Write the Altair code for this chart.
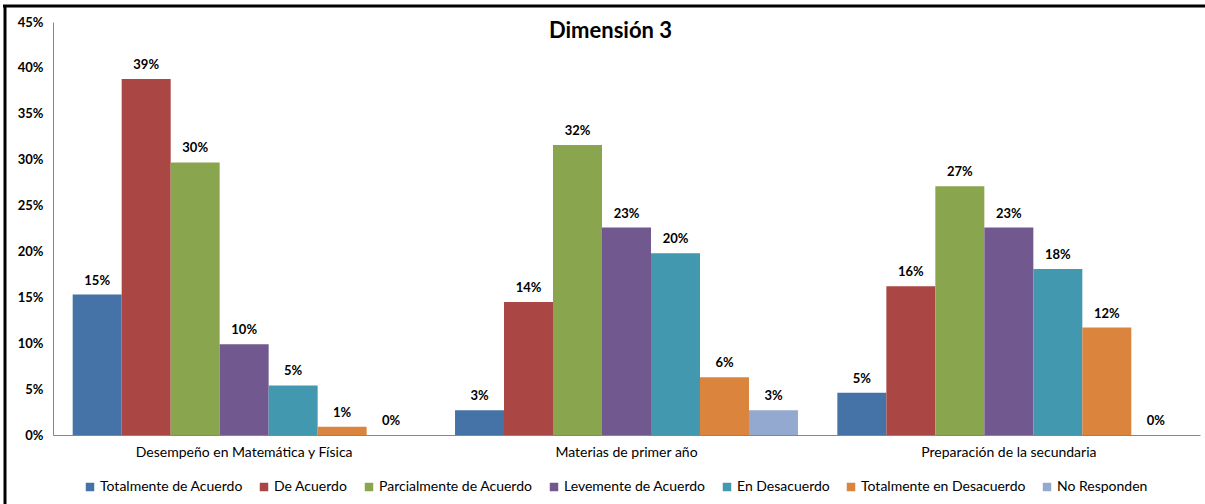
import altair as alt
import pandas as pd

categories = ["Desempeño en Matemática y Física", "Materias de primer año", "Preparación de la secundaria"]
series = ["Totalmente de Acuerdo", "De Acuerdo", "Parcialmente de Acuerdo", "Levemente de Acuerdo",
          "En Desacuerdo", "Totalmente en Desacuerdo", "No Responden"]
colors = ["#4572A7", "#AA4643", "#89A54E", "#71588F", "#4198AF", "#DB843D", "#93A9CF"]

vals_desempeno = [15.3, 38.8, 29.7, 9.9, 5.4, 0.9, 0.0]
vals_materias = [2.7, 14.5, 31.6, 22.6, 19.8, 6.3, 2.7]
vals_preparacion = [4.6, 16.2, 27.1, 22.6, 18.1, 11.7, 0.0]

y_ticks = [0, 0.05, 0.10, 0.15, 0.20, 0.25, 0.30, 0.35, 0.40, 0.45]

rows = []
for cat, vals in zip(categories, [vals_desempeno, vals_materias, vals_preparacion]):
    for s, v in zip(series, vals):
        rows.append({"cat": cat, "serie": s, "val": v / 100.0})
df = pd.DataFrame(rows)

FONT = "Lato"
W, H = 1147, 413

x_enc = alt.X("cat:N", sort=categories, title=None,
              scale=alt.Scale(paddingInner=0.103, paddingOuter=0.0515),
              axis=alt.Axis(labelAngle=0, ticks=False, domainColor="#868686", labelFont=FONT,
                            labelFontSize=14, labelColor="#000000", labelPadding=10, labelLimit=0))
xo_enc = alt.XOffset("serie:N", sort=series, scale=alt.Scale(paddingInner=0, paddingOuter=0))
y_enc = alt.Y("val:Q", title=None,
              scale=alt.Scale(domain=[0, 0.45], nice=False),
              axis=alt.Axis(values=y_ticks, format=".0%", grid=False, ticks=False,
                            domainColor="#868686", labelFont=FONT, labelFontSize=13,
                            labelFontWeight="bold", labelColor="#000000", labelPadding=10))

bars = alt.Chart(df).mark_bar().encode(
    x=x_enc, xOffset=xo_enc, y=y_enc,
    color=alt.Color("serie:N", sort=series, scale=alt.Scale(domain=series, range=colors),
                    legend=alt.Legend(title=None, orient="none", direction="horizontal",
                                      legendX=30, legendY=458, columns=7, columnPadding=14,
                                      symbolType="square", symbolSize=72, symbolStrokeWidth=0,
                                      labelFont=FONT, labelFontSize=14, labelColor="#000000",
                                      labelOffset=3, labelLimit=0))
)

labels = alt.Chart(df).mark_text(baseline="middle", dy=-14, font=FONT, fontSize=13,
                                 fontWeight="bold", color="#000000").encode(
    x=alt.X("cat:N", sort=categories), xOffset=alt.XOffset("serie:N", sort=series),
    y="val:Q", text=alt.Text("val:Q", format=".0%")
)

frame_df = pd.DataFrame([{"k": 1}])
top_line = alt.Chart(frame_df).mark_rule(color="#000000", strokeWidth=3).encode(
    x=alt.value(-50), x2=alt.value(1160), y=alt.value(-16))
left_line = alt.Chart(frame_df).mark_rule(color="#000000", strokeWidth=3).encode(
    x=alt.value(-48), y=alt.value(-17), y2=alt.value(490))

chart = alt.layer(bars, labels, top_line, left_line).properties(
    width=W, height=H,
    title=alt.TitleParams("Dimensión 3", font=FONT, fontSize=22, fontWeight="bold",
                          color="#000000", anchor="middle", dy=43, dx=-16),
    autosize=alt.AutoSizeParams(type="none"),
    padding={"left": 53, "top": 22, "right": 5, "bottom": 69},
    background="white"
).configure_view(stroke=None)

chart.save("out.html", embed_options={"renderer": "svg", "actions": False})
